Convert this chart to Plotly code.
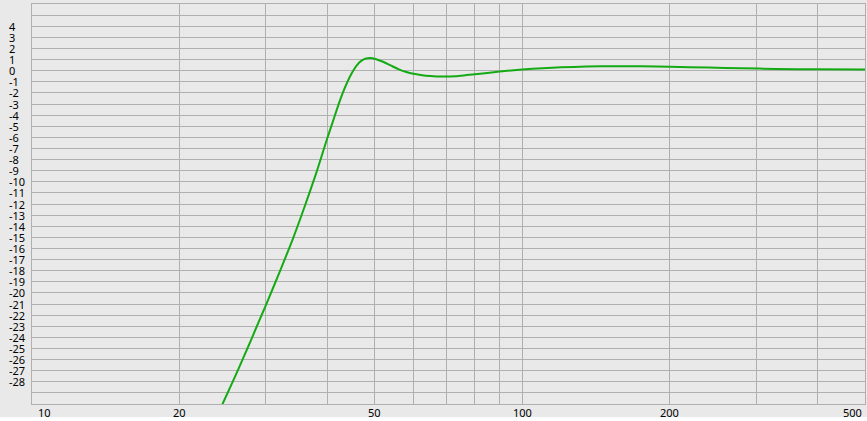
"""Frequency response plot (high-pass alignment) recreated with Plotly."""
import numpy as np
import plotly.graph_objects as go

GREEN = "#14aa14"
BG = "#e9e9e9"
GRID = "#b0b0b0"

# response (Hz, dB)
freq_hz = [24, 25, 26, 27, 28, 29, 30, 32, 34, 36, 38, 40, 41, 42, 43, 44, 45,
           46, 47, 48, 49, 50, 52, 54, 56, 58, 60, 62, 65, 69, 73, 77, 83, 90,
           100, 110, 120, 135, 155, 175, 200, 240, 280, 330, 400, 500]
level_db = [-30.8, -29.1, -27.45, -25.8, -24.2, -22.6, -21.1, -18.1, -15.2,
            -12.2, -9.2, -6.1, -4.7, -3.3, -2.05, -1.0, -0.15, 0.5, 0.9, 1.1,
            1.15, 1.08, 0.8, 0.45, 0.12, -0.12, -0.28, -0.38, -0.48, -0.53,
            -0.5, -0.4, -0.25, -0.08, 0.1, 0.22, 0.3, 0.37, 0.4, 0.39, 0.35,
            0.28, 0.22, 0.16, 0.12, 0.1]

ref_levels = [0, -3]
ref_colors = ["#000000", "#e00000"]

grid_freqs = [20, 30, 40, 50, 60, 70, 80, 90, 100, 200, 300, 400]
x_labels = [10, 20, 50, 100, 200, 500]
y_grid = list(range(-30, 7))
y_labels = list(range(-28, 5))

fig = go.Figure()
fig.add_trace(go.Scatter(x=freq_hz, y=level_db, mode="lines",
                         line=dict(color=GREEN, width=2, shape="spline", smoothing=0.8),
                         hoverinfo="x+y", showlegend=False))

for lvl, col in zip(ref_levels, ref_colors):
    fig.add_hline(y=lvl, line=dict(color=col, width=1, dash="3px,3px"))

annos = []
for v in y_labels:
    annos.append(dict(x=-25 / 833, xref="paper", y=v, yref="y", text=str(v),
                      xanchor="left", yanchor="middle", showarrow=False,
                      font=dict(size=11)))
for v in x_labels:
    anchor = "left" if v == x_labels[0] else ("right" if v == x_labels[-1] else "center")
    shift = 4 if anchor == "left" else (-1 if anchor == "right" else 0)
    annos.append(dict(x=np.log10(v), xref="x", y=0, yref="paper", text=str(v),
                      xanchor=anchor, yanchor="middle", yshift=-8, xshift=shift,
                      showarrow=False, font=dict(size=11)))

fig.update_layout(
    width=867, height=421,
    margin=dict(l=32, r=2, t=4, b=17),
    paper_bgcolor=BG, plot_bgcolor=BG,
    font=dict(family="Noto Sans, DejaVu Sans, sans-serif", size=11, color="#000000"),
    annotations=annos,
    shapes=[dict(type="rect", xref="paper", yref="paper", x0=-0.1, x1=1.1,
                 y0=-0.1, y1=-(417 - 404) / 400, fillcolor="#ffffff",
                 line=dict(width=0), layer="below")],
    xaxis=dict(type="log", range=[1, np.log10(500)], tickvals=grid_freqs,
               showticklabels=False, ticks="", showgrid=True, gridcolor=GRID,
               gridwidth=1, showline=True, linecolor=GRID, mirror=True,
               zeroline=False),
    yaxis=dict(range=[-30, 6], tickvals=y_grid, showticklabels=False, ticks="",
               showgrid=True, gridcolor=GRID, gridwidth=1, showline=True,
               linecolor=GRID, mirror=True, zeroline=False),
)

# page has a default 8px body margin; drop it so the figure fills the window
fig.write_html("out.html", config={"displayModeBar": False},
               post_script="document.body.style.margin='0';document.body.style.overflow='hidden';")
